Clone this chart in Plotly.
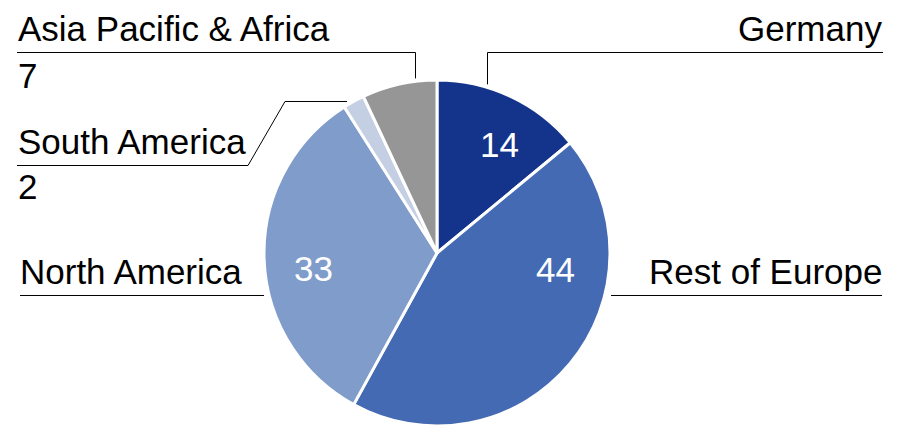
import math
import plotly.graph_objects as go

# Revenue share by region (%)
regions = ["Germany", "Rest of Europe", "North America", "South America", "Asia Pacific & Africa"]
shares = [14, 44, 33, 2, 7]
slice_colors = ["#14338A", "#436AB2", "#7F9CCB", "#C4CFE4", "#969696"]

W, H = 897, 426
R = 173
CX, CY = 437, H - R          # pie rests on the bottom edge
FONT = "Liberation Sans, Arial, sans-serif"
FS = 35


def px(x):
    return x / W


def py(y):
    return 1 - y / H


def edge_y(x, gap=3):
    """Pixel y just above the pie rim at horizontal position x."""
    return CY - math.sqrt(R * R - (x - CX) ** 2) - gap


fig = go.Figure(
    go.Pie(
        labels=regions,
        values=shares,
        sort=False,
        direction="clockwise",
        rotation=0,
        marker=dict(colors=slice_colors, line=dict(color="white", width=3)),
        textinfo="none",
        hoverinfo="label+value",
        showlegend=False,
        domain=dict(x=[px(CX - R), px(CX + R)], y=[0, py(CY - R)]),
    )
)

# in-slice value labels, offsets in units of the radius from the pie centre
inside = {"Germany": (0.364, -0.63), "Rest of Europe": (0.685, 0.095), "North America": (-0.711, 0.09)}
annotations = []
for name, val in zip(regions, shares):
    if name in inside:
        dx, dy = inside[name]
        annotations.append(dict(
            x=px(CX + dx * R), y=py(CY + dy * R), xref="paper", yref="paper",
            text=str(val), showarrow=False, xanchor="center", yanchor="middle",
            font=dict(family=FONT, size=FS, color="white"),
        ))

# outside category labels: (name, anchor x px, side, name y px, value y px or None)
outside = [
    ("Germany", 884, "right", 29, None),
    ("Asia Pacific & Africa", 16, "left", 29, 75.5),
    ("South America", 16, "left", 141, 186.5),
    ("North America", 18, "left", 271, None),
    ("Rest of Europe", 884, "right", 271, None),
]
val_of = dict(zip(regions, shares))
for name, ax, side, ny, vy in outside:
    annotations.append(dict(
        x=px(ax), y=py(ny), xref="paper", yref="paper", text=name, showarrow=False,
        xanchor=side, yanchor="middle", font=dict(family=FONT, size=FS, color="black"),
    ))
    if vy is not None:
        annotations.append(dict(
            x=px(ax), y=py(vy), xref="paper", yref="paper", text=str(val_of[name]),
            showarrow=False, xanchor=side, yanchor="middle",
            font=dict(family=FONT, size=FS, color="black"),
        ))

# leader lines in pixel coordinates (half-pixel offsets keep 1px strokes crisp)
leaders = [
    [(883, 52.5), (487.5, 52.5), (487.5, edge_y(487))],
    [(17, 52.5), (415.5, 52.5), (415.5, edge_y(415))],
    [(17, 165.5), (248, 165.5), (285, 101.5), (347, 101.5)],
    [(20, 295.5), (CX - R, 295.5)],
    [(CX + R + 1, 295.5), (882, 295.5)],
]
shapes = []
for pts in leaders:
    path = "M " + " L ".join(f"{px(x):.5f},{py(y):.5f}" for x, y in pts)
    shapes.append(dict(type="path", path=path, xref="paper", yref="paper",
                       line=dict(color="black", width=1)))

fig.update_layout(
    width=W, height=H,
    margin=dict(l=0, r=0, t=0, b=0),
    paper_bgcolor="white", plot_bgcolor="white",
    annotations=annotations, shapes=shapes,
    font=dict(family=FONT),
)

fig.write_html("out.html")
